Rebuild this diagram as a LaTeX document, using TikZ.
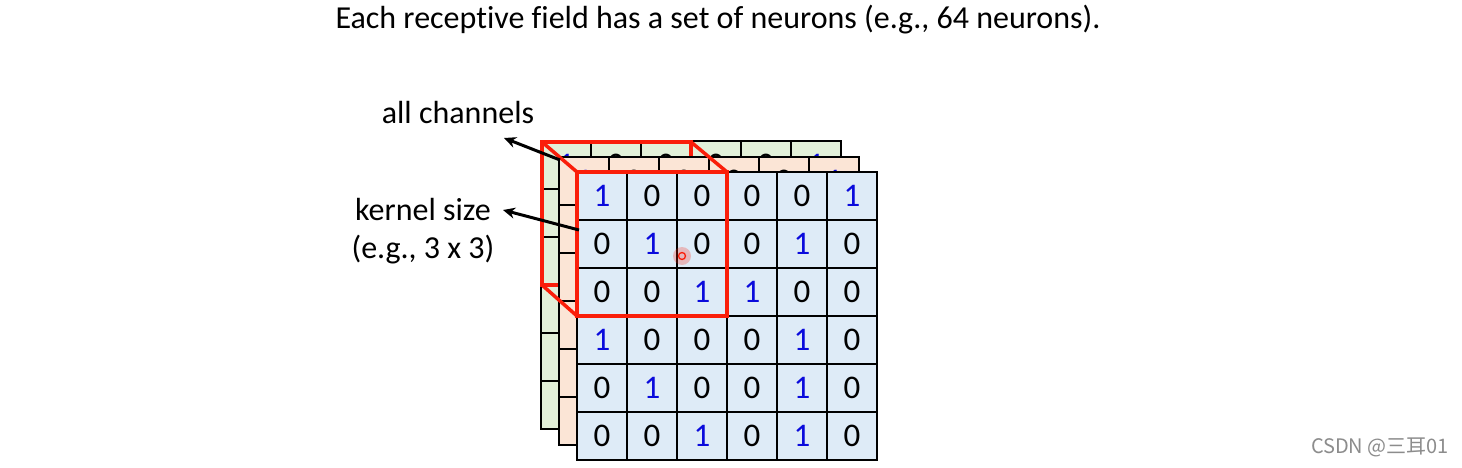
\documentclass[tikz,border=0pt]{standalone}
\usepackage{fontspec}
\setmainfont{Carlito}[Ligatures=NoCommon]
\newfontfamily\cjk{Noto Sans CJK SC}
\usetikzlibrary{arrows.meta}
\definecolor{chgreen}{RGB}{226,240,217}
\definecolor{chorange}{RGB}{251,229,214}
\definecolor{chblue}{RGB}{222,235,247}
\definecolor{onecol}{RGB}{10,10,220}
\definecolor{redcol}{RGB}{250,30,10}
\tikzset{
  d0/.style={text=black},
  d1/.style={text=onecol},
  redline/.style={draw=redcol, line width=3.5pt, line join=miter},
  arr/.style={line width=3pt, -{Stealth[length=12pt,width=11pt]}},
  label/.style={font=\fontsize{32}{38}\selectfont, align=center}
}
% one channel: fill colour, shift
\newcommand{\drawlayer}[3]{%
\begin{scope}[shift={(#2,#3)}]
\filldraw[fill=#1, line width=1.2pt] (577,172) rectangle (877,460);
\foreach \i in {1,...,5} \draw[line width=1.2pt] (577+50*\i,172) -- (577+50*\i,460);
\foreach \j in {1,...,5} \draw[line width=1.2pt] (577,172+48*\j) -- (877,172+48*\j);
\foreach \row [count=\r] in {{1,0,0,0,0,1},{0,1,0,0,1,0},{0,0,1,1,0,0},{1,0,0,0,1,0},{0,1,0,0,1,0},{0,0,1,0,1,0}}
  \foreach \v [count=\c] in \row
    \node[d\v, font=\fontsize{33}{33}\selectfont] at (552+50*\c,148+48*\r) {\v};
\end{scope}}

\begin{document}
\begin{tikzpicture}[x=1pt,y=-1pt]
\useasboundingbox[fill=white] (0,0) rectangle (1462,468);
\node[label] (title) at (718,20) {Each receptive field has a set of neurons (e.g., 64 neurons).};

\drawlayer{chgreen}{-36}{-31} % back channel
\draw[redline] (542,142) rectangle (691,285);
\drawlayer{chorange}{-18}{-15} % middle channel
\draw[redline] (542,142) -- (577,172);
\draw[redline] (691,142) -- (727,172);
\draw[redline] (542,285) -- (577,316);
\drawlayer{chblue}{0}{0} % front channel
\draw[redline] (577,172) rectangle (727,316); % 3 x 3 kernel

% pointer
\fill[redcol, opacity=0.25] (682,256) circle (9);
\draw[redcol, line width=1.3pt] (682,256) circle (3.5);

\node[label] (allch) at (458,113) {all channels};
\node[label] (kernel) at (423,231) {kernel size\\(e.g., 3 x 3)};
\coordinate (chtail) at (560,160);
\coordinate (chtip) at (504,138);
\coordinate (ktail) at (579,230);
\coordinate (ktip) at (503,210);
\draw[arr] (chtail) -- (chtip);
\draw[arr] (ktail) -- (ktip);

\node[text=black!45, font=\cjk\fontsize{20}{20}\selectfont] (mark) at (1380,447) {CSDN @三耳01};
\end{tikzpicture}
\end{document}
